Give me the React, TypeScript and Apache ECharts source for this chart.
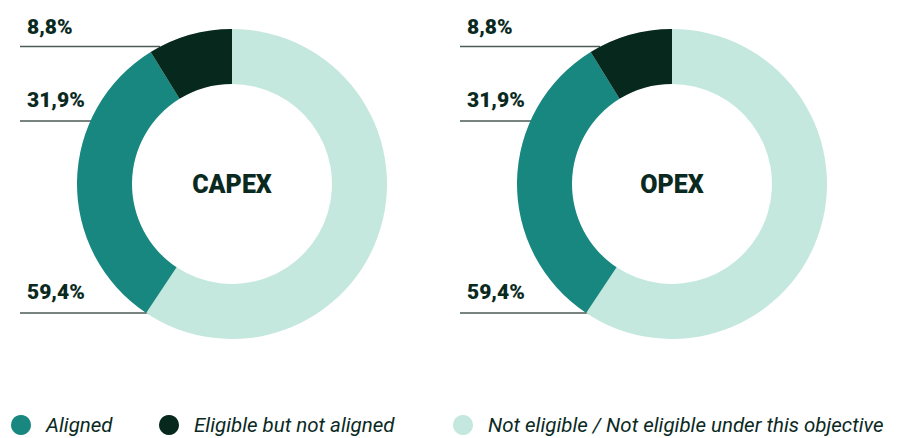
import React, { useEffect, useRef } from "react";
import * as echarts from "echarts";

const categories = ["Aligned", "Eligible but not aligned", "Not eligible / Not eligible under this objective"];
const capexValues = [31.9, 8.8, 59.4];
const opexValues = [31.9, 8.8, 59.4];
const chartNames = ["CAPEX", "OPEX"];
const colors = ["#17877f", "#06281d", "#c4e8de"];
// drawing order clockwise from the top
const sliceOrder = [2, 0, 1];

const TEXT = "#0b2a1f";
const FONT = "Roboto, 'Noto Sans', sans-serif";

// label placement relative to the donut centre, by category index
const labelPlacement = [
  { lineY: 121, endDx: -107, textY: 100 },
  { lineY: 46.5, endDx: -72, textY: 27 },
  { lineY: 313, endDx: -25, textY: 292 },
];

function fmt(v: number) {
  return v.toFixed(1).replace(".", ",") + "%";
}

export default function App() {
  const ref = useRef<HTMLDivElement>(null);
  useEffect(() => {
    if (!ref.current) return;
    const chart = echarts.init(ref.current, null, { renderer: "svg" });
    const cy = 184;
    const centers = [232, 672];
    const valueSets = [capexValues, opexValues];

    const series = chartNames.map((name, s) => {
      const cx = centers[s];
      const vals = valueSets[s];
      return {
        type: "pie",
        name,
        center: [cx, cy],
        radius: [100, 155],
        startAngle: 90,
        clockwise: true,
        silent: true,
        avoidLabelOverlap: false,
        data: sliceOrder.map((ci) => ({
          name: categories[ci],
          value: vals[ci],
          itemStyle: { color: colors[ci] },
        })),
        label: {
          show: true,
          position: "outside",
          formatter: (p: any) => fmt(p.value),
          color: TEXT,
          fontFamily: FONT,
          fontWeight: 900,
          fontSize: 21,
        },
        labelLine: {
          show: true,
          lineStyle: { color: "#4d5b56", width: 1.5 },
        },
        labelLayout: (p: any) => {
          const ci = sliceOrder[p.dataIndex];
          const pl = labelPlacement[ci];
          const x0 = cx - 212;
          const x1 = cx + pl.endDx;
          return {
            x: cx - 205,
            y: pl.textY,
            align: "left",
            verticalAlign: "middle",
            labelLinePoints: [
              [x1, pl.lineY],
              [x0, pl.lineY],
              [x0, pl.lineY],
            ],
          };
        },
      };
    });

    const legendLefts = [11, 159, 453];
    const legends = categories.map((c, i) => ({
      data: [c],
      left: legendLefts[i],
      top: 414,
      padding: 0,
      icon: "circle",
      itemWidth: 20,
      itemHeight: 20,
      selectedMode: false,
      textStyle: {
        color: TEXT,
        fontFamily: FONT,
        fontStyle: "italic",
        fontSize: 20.5,
        lineHeight: 22,
        padding: [0, 0, 0, 10],
      },
    }));

    chart.setOption({
      animation: false,
      backgroundColor: "#ffffff",
      legend: legends,
      series,
      graphic: chartNames.map((n, s) => ({
        type: "text",
        x: centers[s],
        y: cy,
        style: {
          text: n,
          align: "center",
          verticalAlign: "middle",
          fill: TEXT,
          font: `900 25px ${FONT}`,
        },
      })),
    } as any);
    return () => chart.dispose();
  }, []);
  return (
    <div
      ref={ref}
      style={{ position: "fixed", left: 0, top: 0, width: 897, height: 438 }}
    />
  );
}
